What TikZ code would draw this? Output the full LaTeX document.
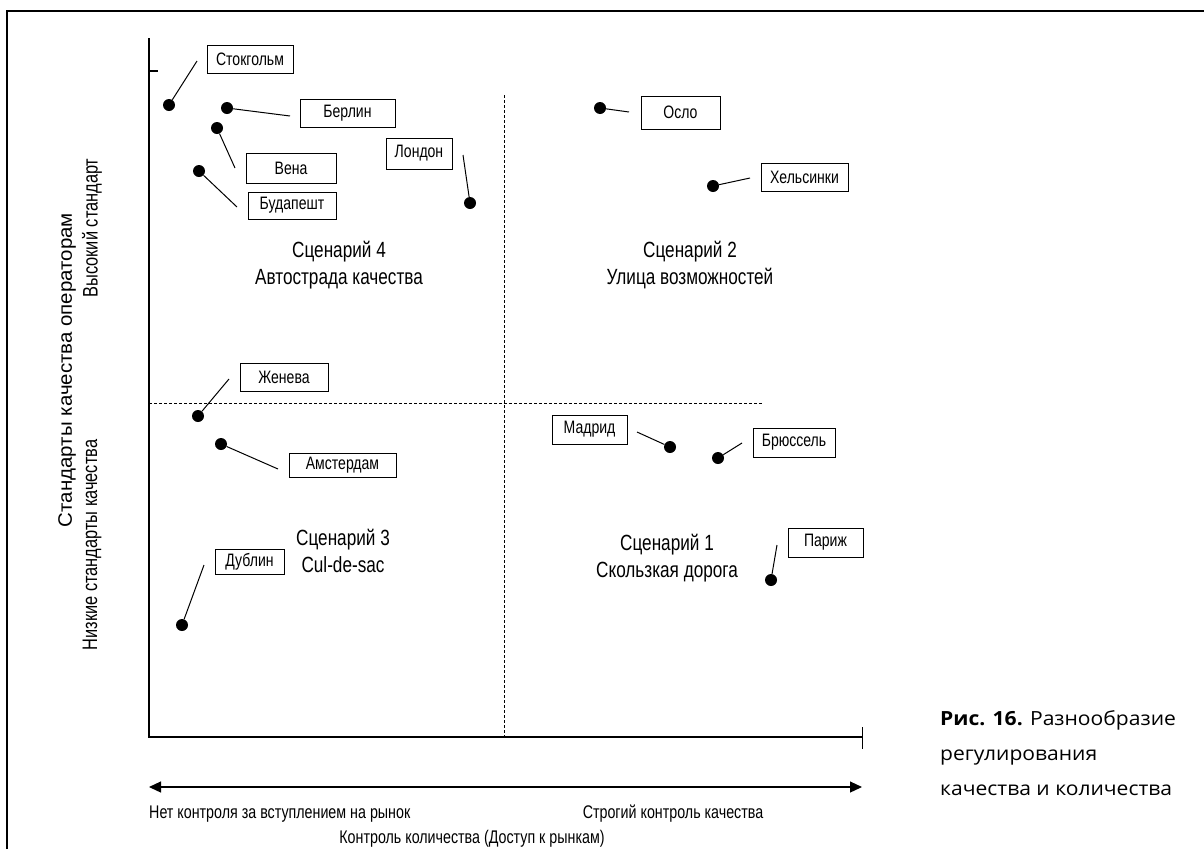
\documentclass[tikz,border=0pt]{standalone}
\usepackage{fontspec}
\setmainfont{Liberation Sans}[FakeStretch=0.78]
\newfontfamily\widefont{Liberation Sans}[FakeStretch=1.05]
\newfontfamily\capfont{Open Sans}[FakeStretch=1.08]
\usepackage{tikz}
\usetikzlibrary{arrows.meta}

\tikzset{
  city/.style={draw, line width=0.9pt, minimum height=28pt, inner sep=0pt,
    font=\fontsize{18}{20}\selectfont},
  dot/.style={circle, fill=black, inner sep=0pt, minimum size=12pt},
  lead/.style={line width=1pt},
  divide/.style={line width=0.8pt, dash pattern=on 3pt off 2pt},
  scen/.style={align=center, font=\fontsize{22}{26.5}\selectfont},
  axlabel/.style={font=\fontsize{18.3}{22}\selectfont}
}

\begin{document}
\begin{tikzpicture}[x=1pt,y=-1pt]
        \useasboundingbox (0,0) rectangle (1204,849);
        % рамка
        \draw[line width=1.5pt] (7,849) -- (7,11) -- (1204,11);
        % оси
        \coordinate (o) at (149,737);
        \coordinate (ytop) at (149,38);
        \coordinate (xend) at (862,737);
        \draw[line width=1.2pt] (ytop) -- (o) -- (xend);
        \draw[line width=1.2pt] (149,71) -- (158,71);
        \draw[line width=1pt] (862,727) -- (862,749);
        % пунктир
        \draw[divide] (504,95) -- (504,737);
        \draw[divide] (149,403) -- (762,403);
        % стрелка
        \coordinate (al) at (149,787);
        \coordinate (ar) at (862,787);
        \draw[line width=1.2pt, {Triangle[length=12pt,width=11pt]}-{Triangle[length=12pt,width=11pt]}] (al) -- (ar);
        % подписи осей
        \node[axlabel, anchor=west, inner xsep=0pt] (xl) at (149,814) {Нет контроля за вступлением на рынок};
        \node[axlabel] (xr) at (673,814) {Строгий контроль качества};
        \node[axlabel, inner sep=0pt] (xt) at (472,839) {Контроль количества (Доступ к рынкам)};
        \node[axlabel, font=\widefont\fontsize{19.5}{22}\selectfont, rotate=90] (yt) at (67,370) {Стандарты качества операторам};
        \node[axlabel, font=\fontsize{21}{22}\selectfont, rotate=90] (yh) at (92,228) {Высокий стандарт};
        \node[axlabel, font=\fontsize{21}{22}\selectfont, rotate=90] (yl) at (92,545) {Низкие стандарты качества};
        % сценарии
        \node[scen] (s4) at (339,265) {Сценарий 4\\Автострада качества};
        \node[scen] (s2) at (690,265) {Сценарий 2\\Улица возможностей};
        \node[scen] (s3) at (343,551) {Сценарий 3\\Cul-de-sac};
        \node[scen] (s1) at (667,558) {Сценарий 1\\Скользкая дорога};
        % города
        \node[city, minimum width=86pt] (bSto) at (250,59) {Стокгольм};
        \node[city, minimum width=95pt] (bBer) at (347.5,113) {Берлин};
        \node[city, minimum width=90pt, minimum height=30pt] (bVie) at (291,168) {Вена};
        \node[city, minimum width=88pt, minimum height=27pt] (bBud) at (292,205.5) {Будапешт};
        \node[city, minimum width=66pt, minimum height=31pt] (bLon) at (419,153.5) {Лондон};
        \node[city, minimum width=79pt, minimum height=33pt] (bOsl) at (680.5,112.5) {Осло};
        \node[city, minimum width=87pt] (bHel) at (804.5,177) {Хельсинки};
        \node[city, minimum width=88pt] (bGen) at (284,377) {Женева};
        \node[city, minimum width=107pt, minimum height=24pt] (bAms) at (342.5,465) {Амстердам};
        \node[city, minimum width=69pt, minimum height=25pt] (bDub) at (249.5,561.5) {Дублин};
        \node[city, minimum width=75pt, minimum height=29pt] (bMad) at (589.5,429.5) {Мадрид};
        \node[city, minimum width=82pt, minimum height=29pt] (bBru) at (794,442.5) {Брюссель};
        \node[city, minimum width=75pt, minimum height=29pt] (bPar) at (825.5,542.5) {Париж};
        % точки и выноски
        \foreach \n/\dx/\dy/\ex/\ey in {Sto/169/105/197/61, Ber/227/108/290/116,
                Vie/217/128/235/168, Bud/199/171/237/207, Lon/470/203/463/155,
                Osl/600/108/629/112, Hel/713/186/750/178, Gen/198/416/229/379,
                Ams/221/444/278/469, Dub/182/625/204/565, Mad/670/447/637/432,
                Bru/718/458/742/443, Par/771/580/777/545}
        {
                \node[dot] (d\n) at (\dx,\dy) {};
                \coordinate (e\n) at (\ex,\ey);
                \draw[lead] (d\n) -- (e\n);
        };
        % подпись рисунка
        \node[anchor=north west, inner sep=0pt, align=left,
              font=\capfont\fontsize{19.5}{35}\selectfont] (cap) at (940,710)
              {\textbf{Рис. 16.} Разнообразие\\регулирования\\качества и количества};
\end{tikzpicture}
\end{document}
